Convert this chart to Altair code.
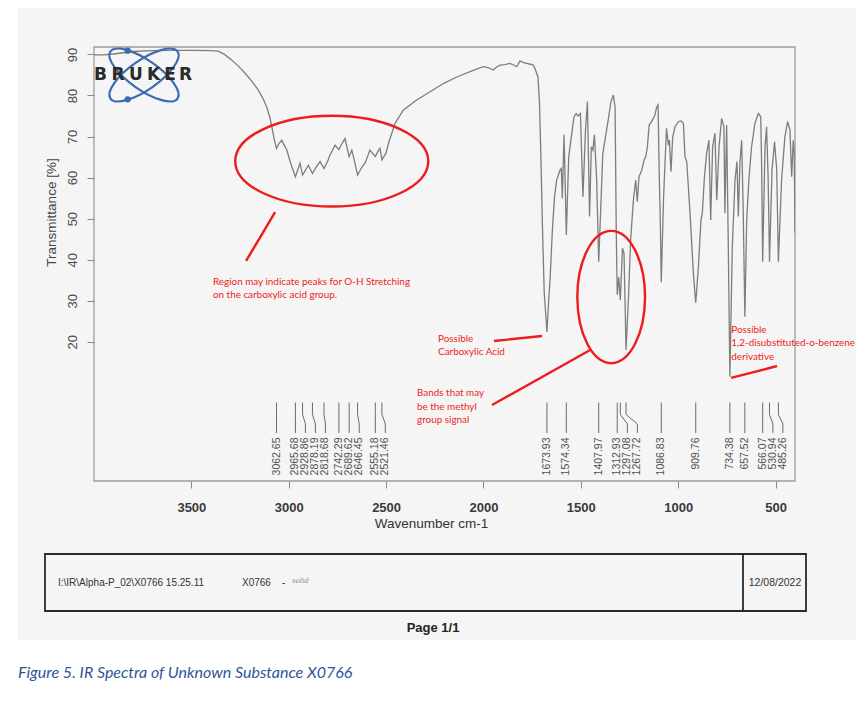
import altair as alt
import pandas as pd

# ---------------- data ----------------
wavenumber = [4000, 3950, 3900, 3850, 3800, 3700, 3600, 3500, 3400, 3361, 3330, 3292, 3260, 3224,
              3190, 3156, 3130, 3113, 3096, 3087, 3075, 3062.65, 3050, 3036, 3020, 3010, 2990,
              2965.68, 2942, 2928.86, 2899, 2878.19, 2860, 2839, 2818.68, 2800, 2788, 2762,
              2742.29, 2730, 2711, 2689.62, 2676, 2660, 2646.45, 2625, 2608, 2583, 2555.18, 2540,
              2531, 2521.46, 2500, 2488, 2454, 2412, 2343, 2274, 2206, 2137, 2069, 2001, 1975,
              1950, 1930, 1915, 1890, 1864, 1840, 1829, 1812, 1795, 1778, 1760, 1744, 1735, 1720,
              1712, 1705, 1697, 1688, 1673.93, 1665, 1658, 1646, 1635, 1624, 1607, 1600, 1595,
              1586, 1574.34, 1562, 1552, 1535, 1524, 1514, 1502, 1489, 1476, 1466, 1455, 1446,
              1438, 1430, 1419, 1407.97, 1387, 1362, 1345, 1333, 1324, 1318, 1312.93, 1305,
              1297.08, 1286, 1278, 1267.72, 1255, 1244, 1230, 1218, 1210, 1201, 1187, 1175, 1166,
              1158, 1149, 1132, 1120, 1110, 1103, 1097, 1092, 1086.83, 1075, 1060, 1050, 1045,
              1037, 1028, 1016, 999, 986, 973, 965, 956, 939, 922, 909.76, 896, 883, 876, 865,
              854, 842, 833, 823, 811, 802, 790, 777, 765, 760, 751, 743, 734.38, 722, 708, 698,
              691, 683, 674, 666, 657.52, 648, 637, 623, 606, 588, 576, 571, 566.07, 554, 546,
              538, 530.94, 518, 505, 494, 485.26, 469, 452, 438, 426, 417, 409, 404, 400]
transmittance = [89.9, 89.9, 90.1, 90.4, 90.7, 90.9, 91.0, 91.0, 90.9, 90.8, 90.0, 88.6, 87.2, 85.4,
                 83.5, 81.3, 79.0, 77.2, 74.5, 72.4, 69.5, 67.1, 68.3, 69.1, 67.6, 66.7, 63.5,
                 60.2, 63.5, 60.6, 63.0, 61.0, 62.5, 63.9, 62.2, 64.0, 65.5, 67.9,
                 66.8, 68.0, 69.5, 65.1, 66.7, 63.5, 60.6, 62.5, 63.5, 66.7, 65.1, 66.5,
                 67.1, 64.3, 66.0, 68.3, 73.2, 76.4, 78.9, 80.9, 82.9, 84.5, 85.8, 87.0, 86.8,
                 86.2, 87.0, 87.4, 87.5, 87.8, 87.3, 87.0, 88.4, 88.0, 87.8, 87.6, 87.4, 86.5, 84.5,
                 78.0, 65.0, 48.0, 32.0, 22.4, 30.0, 35.0, 47.2, 55.3, 59.4, 61.8, 62.2, 54.9,
                 70.4, 46.0, 65.1, 68.7, 74.8, 75.6, 75.0, 75.6, 55.3, 71.6, 78.5, 50.5, 67.5,
                 66.7, 70.4, 60.0, 39.5, 65.9, 73.2, 78.5, 80.1, 77.2, 47.2, 31.5, 35.8,
                 30.2, 42.8, 41.5, 18.0, 31.0, 44.8, 54.5, 59.4, 54.1, 60.2, 61.8, 64.3, 65.1,
                 67.5, 72.8, 74.0, 75.2, 77.2, 77.7, 60.0, 50.0, 34.5, 55.0, 72.0, 67.9, 69.1,
                 61.4, 69.9, 72.4, 73.6, 73.8, 73.2, 65.1, 63.9, 51.3, 36.7, 29.5, 38.3, 49.7, 51.3, 60.2,
                 65.9, 69.1, 49.7, 67.5, 70.8, 54.5, 67.5, 74.4, 72.4, 51.3, 72.8, 45.0, 11.5, 43.2, 59.4, 63.9,
                 50.5, 63.5, 69.1, 52.0, 26.1, 49.7, 59.4, 67.5, 73.2, 75.6, 74.8, 62.0, 39.5, 67.5, 72.4,
                 60.0, 39.5, 62.0, 68.7, 62.0, 39.5, 59.4, 69.9, 73.6, 71.6, 60.2, 69.1, 66.0, 46.5]

peak_positions = [3062.65, 2965.68, 2928.86, 2878.19, 2818.68, 2742.29, 2689.62, 2646.45, 2555.18,
                  2521.46, 1673.93, 1574.34, 1407.97, 1312.93, 1297.08, 1267.72, 1086.83, 909.76,
                  734.38, 657.52, 566.07, 530.94, 485.26]
peak_label_pos = [3062.65, 2965.68, 2914.2, 2862.9, 2811.5, 2742.29, 2689.62, 2637.9, 2555.18,
                  2503.8, 1673.93, 1574.34, 1407.97, 1312.93, 1260.9, 1209.6, 1086.83, 909.76,
                  734.38, 657.52, 566.07, 513.6, 462.3]
connector_levels = [5.2, 2.3, 0.0, -2.2]
label_level = -3.3

x_ticks = [3500, 3000, 2500, 2000, 1500, 1000, 500]
y_ticks = [20, 30, 40, 50, 60, 70, 80, 90]

ellipse_x = [2779, 1344]
ellipse_y = [64.0, 30.9]

red_line_x1 = [3070, 1452, 1946, 728]
red_line_y1 = [51.6, 18.0, 20.2, 11.2]
red_line_x2 = [3219, 1956, 1699, 492]
red_line_y2 = [39.7, 4.6, 21.4, 14.1]

note_text = ["Region may indicate peaks for O-H Stretching", "on the carboxylic acid group.",
             "Possible", "Carboxylic Acid",
             "Bands that may", "be the methyl", "group signal",
             "Possible", "1,2-disubstituted-o-benzene", "derivative"]
note_x = [3389, 3389, 2233, 2233, 2341, 2341, 2341, 727, 727, 727]
note_y = [34.5, 31.4, 20.6, 17.5, 7.5, 4.2, 1.0, 22.9, 19.6, 16.4]

logo_letters = ["B", "R", "U", "K", "E", "R"]
logo_letter_x = [6.5, 24, 42, 59.5, 76, 91.5]

W, H = 701, 434
xs = alt.Scale(domain=[400, 4000], reverse=True, nice=False, zero=False)
ys = alt.Scale(domain=[-13.9, 91.8], nice=False, zero=False)
RED = "#ee1c1c"
one = pd.DataFrame({"k": [0]})


def ellipse_path(ratio):
    k = 0.5523
    r = ratio
    return (f"M -1 0 C -1 {-k*r} {-k} {-r} 0 {-r} C {k} {-r} 1 {-k*r} 1 0 "
            f"C 1 {k*r} {k} {r} 0 {r} C {-k} {r} -1 {k*r} -1 0 Z")


# page background (scanned sheet)
page = alt.Chart(one).mark_rect(color="#f5f5f5").encode(
    x=alt.value(-76), x2=alt.value(762), y=alt.value(-39), y2=alt.value(593))

frame = alt.Chart(one).mark_rect(fillOpacity=0, stroke="#9c9c9c", strokeWidth=1.3).encode(
    x=alt.value(0), x2=alt.value(W), y=alt.value(0), y2=alt.value(H))

spec_df = pd.DataFrame({"wn": wavenumber, "T": transmittance})
spectrum = alt.Chart(spec_df).mark_line(color="#7d7d7d", strokeWidth=1.3, clip=True).encode(
    x=alt.X("wn:Q", scale=xs,
            axis=alt.Axis(values=x_ticks, title=None, domain=False, grid=False, tickSize=7,
                          tickColor="#8a8a8a", labelFontSize=13, labelColor="#3a3a3a",
                          labelFont="Liberation Sans", labelFontWeight="bold", format="d",
                          labelPadding=13, zindex=1, labelFlush=False)),
    y=alt.Y("T:Q", scale=ys,
            axis=alt.Axis(values=y_ticks, title=None, domain=False, grid=False, tickSize=7,
                          tickColor="#8a8a8a", labelFontSize=13, labelColor="#4a4a4a",
                          labelFont="Liberation Sans", labelAngle=270, labelAlign="center",
                          labelBaseline="bottom", labelPadding=8, zindex=1, format="d")),
    order="idx:Q",
).transform_window(idx="row_number()")

rows = []
for i, (p, lp) in enumerate(zip(peak_positions, peak_label_pos)):
    xs_pts = [p, p, lp, lp]
    for s, (xv, yv) in enumerate(zip(xs_pts, connector_levels)):
        rows.append({"pid": i, "step": s, "x": xv, "y": yv})
conn_df = pd.DataFrame(rows)
connectors = alt.Chart(conn_df).mark_line(color="#6a6a6a", strokeWidth=1).encode(
    x=alt.X("x:Q", scale=xs, axis=None), y=alt.Y("y:Q", scale=ys, axis=None),
    detail="pid:N", order="step:Q")

lab_df = pd.DataFrame({"lp": peak_label_pos, "txt": [f"{p:.2f}" for p in peak_positions],
                       "ly": [label_level] * len(peak_positions)})
peak_labels = alt.Chart(lab_df).mark_text(angle=270, align="right", baseline="middle",
                                          fontSize=10.5, font="Liberation Sans",
                                          color="#505050").encode(
    x=alt.X("lp:Q", scale=xs, axis=None), y=alt.Y("ly:Q", scale=ys, axis=None), text="txt:N")

# red annotation ellipses
e1 = alt.Chart(pd.DataFrame({"x": [ellipse_x[0]], "y": [ellipse_y[0]]})).mark_point(
    shape=ellipse_path(0.47), filled=False, stroke=RED, strokeWidth=2.4, opacity=1).encode(
    x=alt.X("x:Q", scale=xs, axis=None), y=alt.Y("y:Q", scale=ys, axis=None),
    size=alt.value(193 ** 2))
e2 = alt.Chart(pd.DataFrame({"x": [ellipse_x[1]], "y": [ellipse_y[1]]})).mark_point(
    shape=ellipse_path(1.954), filled=False, stroke=RED, strokeWidth=2.4, opacity=1).encode(
    x=alt.X("x:Q", scale=xs, axis=None), y=alt.Y("y:Q", scale=ys, axis=None),
    size=alt.value(67.7 ** 2))

rl_df = pd.DataFrame({"x1": red_line_x1, "y1": red_line_y1, "x2": red_line_x2, "y2": red_line_y2})
red_lines = alt.Chart(rl_df).mark_rule(color=RED, strokeWidth=2.4).encode(
    x=alt.X("x1:Q", scale=xs, axis=None), y=alt.Y("y1:Q", scale=ys, axis=None),
    x2="x2:Q", y2="y2:Q")

nt_df = pd.DataFrame({"t": note_text, "x": note_x, "y": note_y})
notes = alt.Chart(nt_df).mark_text(align="left", baseline="middle", fontSize=9.9, font="Lato",
                                   color=RED).encode(
    x=alt.X("x:Q", scale=xs, axis=None), y=alt.Y("y:Q", scale=ys, axis=None), text="t:N")

# Bruker logo (decoration, pixel-placed)
LOGO = "#3d6bb3"
logo_layers = []
for ang in (35, 145):
    logo_layers.append(alt.Chart(one).mark_point(
        shape=ellipse_path(0.36), filled=False, stroke=LOGO, strokeWidth=2.2, opacity=1).encode(
        x=alt.value(50), y=alt.value(28), size=alt.value(82 ** 2), angle=alt.value(ang)))
for py in (3.7, 52.3):
    logo_layers.append(alt.Chart(one).mark_circle(color=LOGO, size=40, opacity=1).encode(
        x=alt.value(33.7), y=alt.value(py)))
for c, px in zip(logo_letters, logo_letter_x):
    logo_layers.append(alt.Chart(one).mark_text(
        text=c, font="DejaVu Sans", fontWeight="bold", fontSize=17, color="#2a2a2a",
        baseline="middle", align="center").encode(x=alt.value(px), y=alt.value(28)))

# axis titles
ytitle = alt.Chart(one).mark_text(text="Transmittance [%]", angle=270, fontSize=13.5,
                                  font="Liberation Sans", color="#444444", align="center",
                                  baseline="middle").encode(x=alt.value(-42), y=alt.value(165.5))
xtitle = alt.Chart(one).mark_text(text="Wavenumber cm-1", fontSize=13.5, font="Liberation Sans",
                                  color="#333333", align="center", baseline="middle").encode(
    x=alt.value(337.5), y=alt.value(477))

# footer
box = alt.Chart(one).mark_rect(fillOpacity=0, stroke="#2a2a2a", strokeWidth=1.8).encode(
    x=alt.value(-49), x2=alt.value(712), y=alt.value(507), y2=alt.value(564))
divider = alt.Chart(one).mark_rule(color="#2a2a2a", strokeWidth=1.8).encode(
    x=alt.value(649), y=alt.value(507), y2=alt.value(564))
foot_style = dict(font="Liberation Sans", fontSize=10, color="#333333", baseline="middle")
f1 = alt.Chart(one).mark_text(text=r"I:\IR\Alpha-P_02\X0766 15.25.11", align="left",
                              **foot_style).encode(x=alt.value(-36), y=alt.value(536))
f2 = alt.Chart(one).mark_text(text="X0766", align="left", **foot_style).encode(
    x=alt.value(148), y=alt.value(536))
f3 = alt.Chart(one).mark_text(text="-", align="left", **foot_style).encode(
    x=alt.value(188), y=alt.value(536))
f4 = alt.Chart(one).mark_text(text="solid", align="left", font="DejaVu Serif", fontSize=7,
                              fontStyle="italic", color="#8a8a8a", baseline="middle").encode(
    x=alt.value(198), y=alt.value(534))
f5 = alt.Chart(one).mark_text(text="12/08/2022", align="center", font="Liberation Sans",
                              fontSize=10.5, color="#333333", baseline="middle").encode(
    x=alt.value(681), y=alt.value(536))
pg = alt.Chart(one).mark_text(text="Page 1/1", align="center", font="Liberation Sans",
                              fontSize=13, fontWeight="bold", color="#222222",
                              baseline="middle").encode(x=alt.value(339), y=alt.value(581))
caption = alt.Chart(one).mark_text(text="Figure 5. IR Spectra of Unknown Substance X0766",
                                   align="left", font="Lato", fontSize=16, fontStyle="italic",
                                   color="#2f5597", baseline="middle").encode(
    x=alt.value(-76), y=alt.value(626))

chart = alt.layer(
    page, frame, spectrum, connectors, peak_labels, *logo_layers,
    e1, e2, red_lines, notes, ytitle, xtitle, box, divider, f1, f2, f3, f4, f5, pg, caption
).resolve_axis(x="independent", y="independent").properties(
    width=W, height=H,
    autosize=alt.AutoSizeParams(type="none"),
    padding={"left": 86, "top": 39, "right": 61, "bottom": 205},
    background="white",
).configure_view(stroke=None)

chart.save("out.html", embed_options={"renderer": "svg", "actions": False})
